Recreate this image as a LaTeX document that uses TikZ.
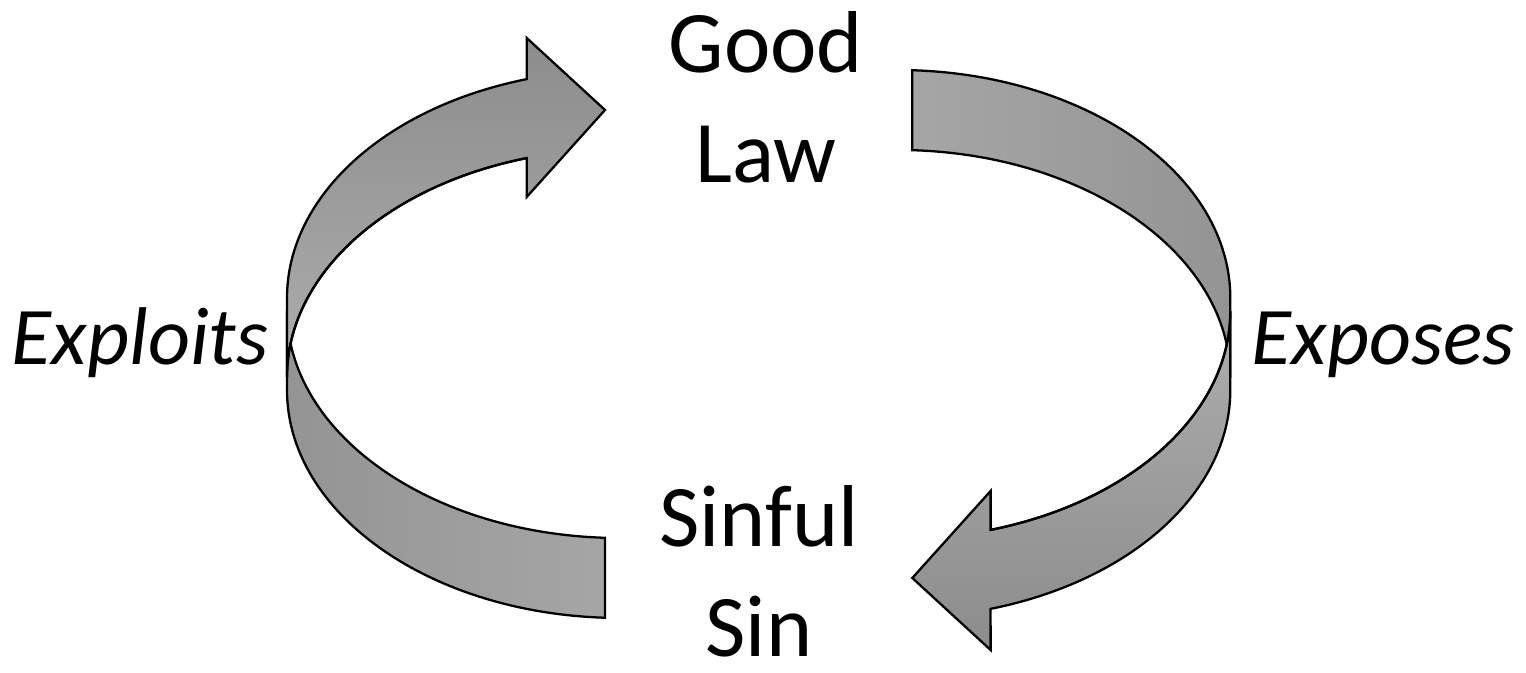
\documentclass[tikz,border=0pt]{standalone}
\usepackage{fontspec}
\setmainfont{Carlito}

\begin{document}
\begin{tikzpicture}[x=.1mm,y=.1mm,
  band/.style={draw,line width=.65pt,line join=miter},
  bigword/.style={font=\fontsize{25}{31.3}\selectfont,align=center,inner sep=0pt},
  sideword/.style={font=\fontsize{23.3}{28}\selectfont\itshape,inner sep=0pt}]
  \useasboundingbox (0,0) rectangle (1526,673);
  % left arrow: tail at the bottom, head at the top
  \path[band,left color=black!42,right color=black!35]
    (287,283) arc[start angle=180,end angle=267.42,x radius=333,y radius=228]
    -- (605,135.2)
    arc[start angle=267.42,end angle=180,x radius=333,y radius=228] -- cycle;
  \path[band,top color=black!45,bottom color=black!32]
    (287,375) arc[start angle=180,end angle=106.27,x radius=333,y radius=228]
    -- (526.7,635) -- (605,563) -- (526.7,476) -- (526.7,514.9)
    arc[start angle=106.27,end angle=180,x radius=333,y radius=228] -- cycle;
  \draw[band] (526.7,514.9)
    arc[start angle=106.27,end angle=180,x radius=333,y radius=228];
  % right arrow: tail at the top, head at the bottom
  \path[band,right color=black!42,left color=black!35]
    (1230.3,375) arc[start angle=0,end angle=87.42,x radius=333,y radius=228]
    -- (912.3,522.8)
    arc[start angle=87.42,end angle=0,x radius=333,y radius=228] -- cycle;
  \path[band,top color=black!32,bottom color=black!45]
    (1230.3,283) arc[start angle=0,end angle=-73.73,x radius=333,y radius=228]
    -- (990.6,23) -- (912.3,95) -- (990.6,182) -- (990.6,143.1)
    arc[start angle=-73.73,end angle=0,x radius=333,y radius=228] -- cycle;
  \draw[band] (990.6,143.1)
    arc[start angle=-73.73,end angle=0,x radius=333,y radius=228];
  % words
  \node[bigword,anchor=base] (good) at (766,490) {Good\\Law};
  \node[bigword,anchor=base] (sinful) at (759,16) {Sinful\\Sin};
  \node[sideword,anchor=base] (exploits) at (140,308) {Exploits};
  \node[sideword,anchor=base] (exposes) at (1383,308) {Exposes};
\end{tikzpicture}
\end{document}
